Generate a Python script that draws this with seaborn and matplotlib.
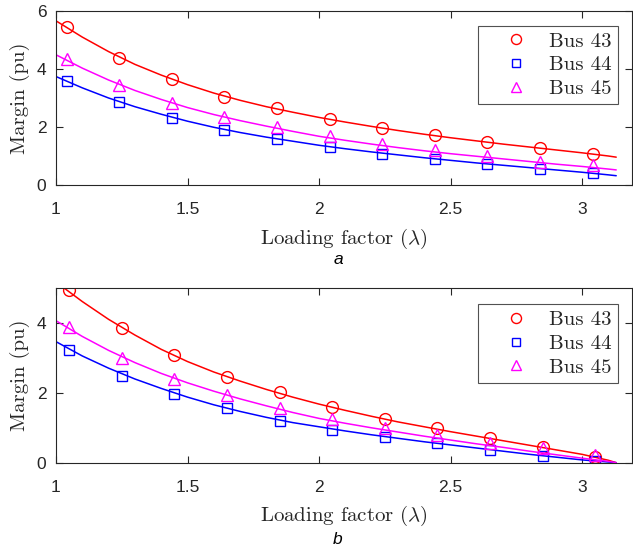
import matplotlib
matplotlib.use("Agg")
import matplotlib.pyplot as plt
import seaborn as sns
import pandas as pd

sns.set_style("ticks")
plt.rcParams['font.family'] = ['Liberation Sans', 'DejaVu Sans']
plt.rcParams['mathtext.fontset'] = 'cm'
plt.rcParams['axes.unicode_minus'] = False

# ---------------- data ----------------
series_names = ["Bus 43", "Bus 44", "Bus 45"]

# measured points (markers)
a_pts_x = [1.04, 1.24, 1.44, 1.64, 1.84, 2.04, 2.24, 2.44, 2.64, 2.84, 3.04]
a_bus43 = [5.45, 4.38, 3.64, 3.05, 2.64, 2.29, 1.96, 1.71, 1.49, 1.28, 1.07]
a_bus44 = [3.60, 2.86, 2.32, 1.90, 1.58, 1.31, 1.07, 0.89, 0.73, 0.56, 0.43]
a_bus45 = [4.34, 3.46, 2.82, 2.35, 2.00, 1.69, 1.40, 1.20, 1.00, 0.81, 0.69]

b_pts_x = [1.05, 1.25, 1.45, 1.65, 1.85, 2.05, 2.25, 2.45, 2.65, 2.85, 3.05]
b_bus43 = [4.94, 3.86, 3.08, 2.47, 2.02, 1.61, 1.25, 0.99, 0.72, 0.46, 0.17]
b_bus44 = [3.23, 2.50, 1.96, 1.56, 1.20, 0.94, 0.75, 0.56, 0.35, 0.20, 0.04]
b_bus45 = [3.88, 3.00, 2.40, 1.94, 1.56, 1.24, 0.99, 0.79, 0.56, 0.41, 0.22]

# fitted curves
curve_x = [1.0, 1.1, 1.2, 1.3, 1.4, 1.5, 1.6, 1.7, 1.8, 1.9, 2.0,
           2.1, 2.2, 2.3, 2.4, 2.5, 2.6, 2.7, 2.8, 2.9, 3.0, 3.1, 3.13]
a_fit43 = [5.66, 5.10, 4.60, 4.16, 3.79, 3.46, 3.17, 2.92, 2.70, 2.51, 2.33,
           2.17, 2.02, 1.88, 1.75, 1.63, 1.52, 1.41, 1.31, 1.21, 1.11, 1.00, 0.96]
a_fit44 = [3.74, 3.35, 3.00, 2.70, 2.44, 2.20, 1.99, 1.81, 1.65, 1.51, 1.37,
           1.25, 1.14, 1.04, 0.94, 0.85, 0.76, 0.68, 0.60, 0.52, 0.44, 0.35, 0.32]
a_fit45 = [4.49, 4.03, 3.62, 3.26, 2.95, 2.67, 2.43, 2.22, 2.03, 1.85, 1.68,
           1.54, 1.41, 1.29, 1.18, 1.08, 0.99, 0.90, 0.81, 0.72, 0.64, 0.55, 0.52]

b_fit43 = [5.18, 4.62, 4.11, 3.66, 3.25, 2.90, 2.60, 2.34, 2.10, 1.88, 1.68,
           1.50, 1.33, 1.17, 1.03, 0.89, 0.76, 0.63, 0.50, 0.37, 0.24, 0.07, 0.0]
b_fit44 = [3.47, 3.06, 2.71, 2.40, 2.13, 1.88, 1.66, 1.47, 1.30, 1.15, 1.03,
           0.91, 0.80, 0.70, 0.60, 0.51, 0.42, 0.33, 0.24, 0.16, 0.08, 0.02, 0.0]
b_fit45 = [4.07, 3.62, 3.22, 2.87, 2.56, 2.29, 2.05, 1.83, 1.63, 1.44, 1.27,
           1.13, 1.00, 0.88, 0.76, 0.65, 0.54, 0.44, 0.33, 0.23, 0.13, 0.04, 0.0]

x_ticks = [1, 1.5, 2, 2.5, 3]
x_tick_labels = ["1", "1.5", "2", "2.5", "3"]
a_yticks = [0, 2, 4, 6]
b_yticks = [0, 2, 4]
panel_labels = ["a", "b"]

colors = ["#ff0000", "#0000ff", "#ff00ff"]
markers = ["o", "s", "^"]
msizes = [8.5, 7, 9]

# ---------------- figure ----------------
fig = plt.figure(figsize=(6.33, 5.51), dpi=100)
ax_a = fig.add_axes([56/633, 1 - 185/551, 576/633, 174/551])
ax_b = fig.add_axes([56/633, 1 - 462.7/551, 576/633, 174.4/551])

panels = [
    (ax_a, a_pts_x, [a_bus43, a_bus44, a_bus45], [a_fit43, a_fit44, a_fit45], (0, 6), a_yticks, 0.9155),
    (ax_b, b_pts_x, [b_bus43, b_bus44, b_bus45], [b_fit43, b_fit44, b_fit45], (0, 5), b_yticks, 0.908),
]

spine_c = "#262626"
for i, (ax, px, pys, fits, ylim, yt, leg_top) in enumerate(panels):
    for name, col, mk, ms, py, fy in zip(series_names, colors, markers, msizes, pys, fits):
        sns.lineplot(x=curve_x, y=fy, color=col, lw=1.1, ax=ax, legend=False,
                     sort=False, estimator=None)
        sns.lineplot(x=px, y=py, ax=ax, color=col, linestyle="none", marker=mk,
                     markersize=ms, markerfacecolor="none", markeredgecolor=col,
                     markeredgewidth=1.0, label=name, sort=False, estimator=None)
    ax.set_xlim(1, 3.19)
    ax.set_ylim(*ylim)
    ax.set_xticks(x_ticks)
    ax.set_xticklabels(x_tick_labels)
    ax.set_yticks(yt)
    ax.tick_params(direction="in", top=True, right=True, length=5, width=0.8,
                   labelsize=12.5, colors=spine_c)
    ax.tick_params(axis="x", pad=12.5)
    ax.tick_params(axis="y", pad=7)
    for s in ax.spines.values():
        s.set_visible(True)
        s.set_color(spine_c)
        s.set_linewidth(0.8)
    ax.set_xlabel(r"Loading factor ($\lambda$)", fontfamily="cmr10", fontsize=15,
                  color=spine_c, labelpad=6.5)
    ax.set_ylabel("Margin (pu)", fontfamily="cmr10", fontsize=15,
                  color=spine_c, labelpad=5)
    leg = ax.legend(loc="upper right", bbox_to_anchor=(0.976, leg_top),
                    borderaxespad=0, prop={"family": "cmr10", "size": 15},
                    frameon=True, fancybox=False, handletextpad=0.1,
                    handlelength=3.0, borderpad=0.3, labelspacing=0.25,
                    markerscale=0.85)
    leg.get_frame().set_edgecolor(spine_c)
    leg.get_frame().set_linewidth(0.8)

fig.text(338/633, 1 - 260/551, "a", ha="center", va="center", fontsize=12.5,
         style="italic", color="black")
fig.text(338/633, 1 - 539/551, "b", ha="center", va="center", fontsize=12.5,
         style="italic", color="black")

fig.savefig("out.png", dpi=100, facecolor="white")
